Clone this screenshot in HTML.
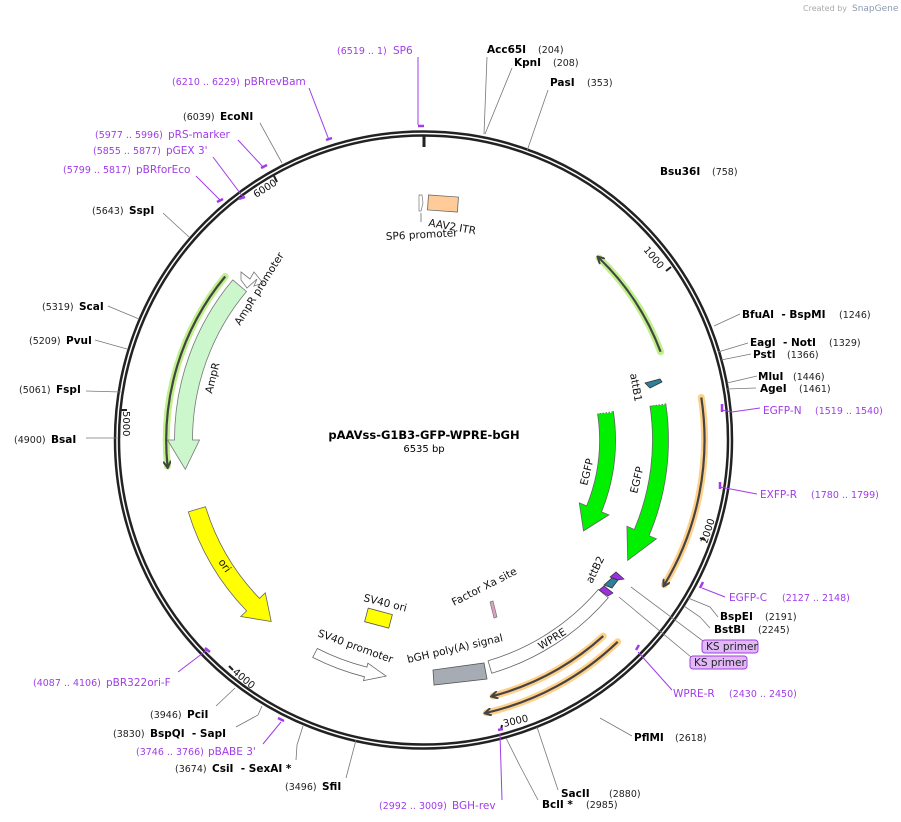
<!DOCTYPE html>
<html><head><meta charset="utf-8"><style>
html,body{margin:0;padding:0;background:#fff;}
svg{display:block;}
text{font-family:"DejaVu Sans","Liberation Sans",sans-serif;}
.b{font-weight:bold;font-size:10.5px;fill:#000;}
.n{font-size:9.5px;fill:#222;}
.p{font-size:10.5px;fill:#a03ce8;}
.pn{font-size:9.5px;fill:#a03ce8;}
.f{font-size:10.5px;fill:#111;}
.t{font-size:10px;fill:#111;}
.ln{stroke:#777;stroke-width:0.8;fill:none;}
.pl{stroke:#a03ce8;stroke-width:1;fill:none;}
.pt{stroke:#a03ce8;stroke-width:2.5;fill:none;}
</style></head><body>
<svg width="901" height="822" viewBox="0 0 901 822" xmlns="http://www.w3.org/2000/svg">
<defs>
<marker id="ah" markerWidth="8" markerHeight="8" refX="5" refY="4" orient="auto" markerUnits="userSpaceOnUse">
<path d="M0,0 L7,4 L0,8" fill="none" stroke="#444" stroke-width="2"/>
</marker>
</defs>
<rect width="901" height="822" fill="#fff"/>
<text x="803" y="11" style="font-size:8px;fill:#aaa">Created by</text>
<text x="852" y="11" style="font-size:9px;fill:#8a9ab0">SnapGene</text>

<circle cx="423.5" cy="440" r="306.5" fill="none" stroke="#222" stroke-width="6.5"/>
<circle cx="423.5" cy="440" r="306.5" fill="none" stroke="#fff" stroke-width="1.5"/>
<line x1="424" y1="136" x2="424" y2="147" stroke="#222" stroke-width="3"/>

<line x1="666" y1="271" x2="671" y2="267" stroke="#222" stroke-width="2"/>
<text class="t" transform="translate(643,250) rotate(50)">1000</text>
<line x1="700" y1="538" x2="705" y2="540" stroke="#222" stroke-width="2"/>
<text class="t" transform="translate(707,544) rotate(-72)">2000</text>
<line x1="501" y1="730" x2="502" y2="725" stroke="#222" stroke-width="2"/>
<text class="t" transform="translate(504,727) rotate(-13)">3000</text>
<line x1="229" y1="666" x2="233" y2="670" stroke="#222" stroke-width="2"/>
<text class="t" transform="translate(232,673) rotate(40)">4000</text>
<line x1="121" y1="410" x2="127" y2="410" stroke="#222" stroke-width="2"/>
<text class="t" transform="translate(123,411) rotate(90)">5000</text>
<line x1="274" y1="176" x2="277" y2="182" stroke="#222" stroke-width="2"/>
<text class="t" transform="translate(256,198) rotate(-32)">6000</text>

<path d="M660.6,351.8 A253 253 0 0 0 599,258" fill="none" stroke="#bff08a" stroke-width="7" stroke-linecap="round"/>
<path d="M660.6,351.8 A253 253 0 0 0 599,258" fill="none" stroke="#444" stroke-width="2.2" marker-end="url(#ah)"/>
<path d="M225.2,276.5 A257 257 0 0 0 167.5,466" fill="none" stroke="#bff08a" stroke-width="7" stroke-linecap="round"/>
<path d="M225.2,276.5 A257 257 0 0 0 167.5,466" fill="none" stroke="#444" stroke-width="2.2" marker-end="url(#ah)"/>
<path d="M701.3,397.5 A281 281 0 0 1 664.4,584.7" fill="none" stroke="#ffd08a" stroke-width="7" stroke-linecap="round"/>
<path d="M701.3,397.5 A281 281 0 0 1 664.4,584.7" fill="none" stroke="#444" stroke-width="2.2" marker-end="url(#ah)"/>
<path d="M603.2,636.1 A266 266 0 0 1 493,696" fill="none" stroke="#ffd08a" stroke-width="7" stroke-linecap="round"/>
<path d="M603.2,636.1 A266 266 0 0 1 493,696" fill="none" stroke="#444" stroke-width="2.2" marker-end="url(#ah)"/>
<path d="M617.7,641.8 A280 280 0 0 1 486.5,712.8" fill="none" stroke="#ffd08a" stroke-width="7" stroke-linecap="round"/>
<path d="M617.7,641.8 A280 280 0 0 1 486.5,712.8" fill="none" stroke="#444" stroke-width="2.2" marker-end="url(#ah)"/>

<path d="M232.8,279.9 A249 249 0 0 0 174.5,440 L167.5,440 L185.3,469.3 L199.5,440 L192.5,440 A231 231 0 0 1 246.5,291.5 Z" fill="#ccf7cc" stroke="#777" stroke-width="0.8"/>
<polygon points="241,272 250,279 254,272 263,283 254,286 257,279 247,288 241,280" fill="#fff" stroke="#777" stroke-width="0.8"/>
<path d="M188.3,511.9 A246 246 0 0 0 246.6,610.9 L240.8,616.5 L271.2,621.5 L265.3,592.8 L259.5,598.4 A228 228 0 0 1 205.5,506.7 Z" fill="#ffff00" stroke="#666" stroke-width="0.8"/>
<path d="M312.7,657.4 A244 244 0 0 0 364.5,676.8 L363.5,680.6 L386.1,676.1 L367.9,663.2 L366.9,667.1 A234 234 0 0 1 317.3,648.5 Z" fill="#fff" stroke="#666" stroke-width="0.8"/>
<polygon points="433,670 484,663 487,679 434,685" fill="#a7acb4" stroke="#555" stroke-width="0.8"/>
<path d="M608.3,597.8 A243 243 0 0 1 491.7,673.2 L488.1,660.8 A230 230 0 0 0 598.4,589.4 Z" fill="#fff" stroke="#666" stroke-width="0.8"/>
<path d="M665.8,403.8 A245 245 0 0 1 649,535.7 L656.4,538.8 L627.7,560.3 L626.9,526.3 L634.3,529.5 A229 229 0 0 0 650,406.2 Z" fill="#00f000" stroke="#666" stroke-width="0.8"/>
<path d="M613.4,411.6 A192 192 0 0 1 601.5,511.9 L608.9,514.9 L583.5,530.9 L579.3,502.9 L586.7,505.9 A176 176 0 0 0 597.6,414 Z" fill="#00f000" stroke="#666" stroke-width="0.8"/>
<line x1="651" y1="405" x2="665" y2="404" stroke="#fff" stroke-width="1.5" stroke-dasharray="1.5,1.5"/>
<line x1="598" y1="413" x2="612" y2="412" stroke="#fff" stroke-width="1.5" stroke-dasharray="1.5,1.5"/>
<rect x="428" y="196" width="30" height="15" fill="#ffcc99" stroke="#666" stroke-width="0.8" transform="rotate(4 443 203)"/>
<polygon points="419,195 422,195 423,203 421,211 419,211" fill="#fff" stroke="#777" stroke-width="0.7"/>
<line x1="421" y1="213" x2="421" y2="222" stroke="#555" stroke-width="0.7"/>
<rect x="366" y="611" width="25" height="14" fill="#ffff00" stroke="#555" stroke-width="0.8" transform="rotate(15 378 618)"/>
<polygon points="490,602 493,601 497,617 494,618" fill="#e0a0c0" stroke="#777" stroke-width="0.7"/>
<polygon points="645,383 660,379 662,382 650,388" fill="#2e7f98" stroke="#333" stroke-width="0.8"/>
<polygon points="604,585 612,578 618,580 612,588" fill="#2e7f98" stroke="#333" stroke-width="0.8"/>
<polygon points="610,577 616,572 624,579 618,580" fill="#9b30e0" stroke="#333" stroke-width="0.7"/>
<polygon points="599,590 604,586 613,593 608,596" fill="#9b30e0" stroke="#333" stroke-width="0.7"/>

<text class="f" transform="translate(428,226) rotate(10)">AAV2 ITR</text>
<text class="f" transform="translate(386,240) rotate(-3)">SP6 promoter</text>
<text class="f" transform="translate(240,326) rotate(-58)">AmpR promoter</text>
<text class="f" transform="translate(212,394) rotate(-76)">AmpR</text>
<text class="f" transform="translate(218,562) rotate(55)">ori</text>
<text class="f" transform="translate(363,601) rotate(14)">SV40 ori</text>
<text class="f" transform="translate(317,636) rotate(20)">SV40 promoter</text>
<text class="f" transform="translate(408,663) rotate(-13)">bGH poly(A) signal</text>
<text class="f" transform="translate(541,650) rotate(-32)">WPRE</text>
<text class="f" transform="translate(454,606) rotate(-27)">Factor Xa site</text>
<text class="f" transform="translate(592,584) rotate(-64)">attB2</text>
<text class="f" transform="translate(630,374) rotate(80)">attB1</text>
<text class="f" transform="translate(587,486) rotate(-76)">EGFP</text>
<text class="f" transform="translate(637,494) rotate(-76)">EGFP</text>

<text x="424" y="439" text-anchor="middle" style="font-weight:bold;font-size:11.5px;fill:#000">pAAVss-G1B3-GFP-WPRE-bGH</text>
<text x="424" y="452" text-anchor="middle" style="font-size:10px;fill:#000">6535 bp</text>

<g class="ln">
<path d="M484,134 L487,57"/><path d="M485,134 L512,68"/><path d="M527,151 L548,90"/>
<path d="M714,326 L740,314"/><path d="M718,352 L748,343"/><path d="M721,360 L751,354"/>
<path d="M727,383 L757,376"/><path d="M727,389 L756,388"/>
<path d="M688,598 L710,607 L718,617"/><path d="M684,606 L700,617 L710,628"/>
<path d="M631,587 L703,641"/><path d="M619,597 L691,657"/>
<path d="M600,718 L632,736"/><path d="M537,727 L558,790"/><path d="M506,738 L520,766 L538,800"/>
<path d="M356,740 L346,778"/><path d="M303,726 L297,745 L296,760"/><path d="M262,706 L258,715 L236,727"/>
<path d="M235,688 L216,706"/>
<path d="M117,438 L86,438"/><path d="M121,392 L86,391"/><path d="M127,349 L95,340"/><path d="M139,319 L108,306"/>
<path d="M189,237 L163,213"/><path d="M282,163 L260,123"/>
</g>
<g class="pl">
<path d="M418,57 L418,125"/><path d="M329,140 L309,88"/><path d="M264,168 L238,140"/><path d="M243,197 L213,157"/><path d="M220,200 L196,176"/>
<path d="M722,410 L732,412 L760,408"/><path d="M720,487 L757,494"/><path d="M702,588 L725,597"/>
<path d="M638,652 L672,690"/><path d="M500,734 L502,800"/><path d="M281,722 L263,744"/><path d="M207,650 L178,672"/>
</g>
<g class="pt">
<path d="M418,126 L424,126"/><path d="M326,140 L332,138"/><path d="M261,168 L267,165"/><path d="M239,199 L245,197"/><path d="M217,202 L223,199"/>
<path d="M722,404 L722,412"/><path d="M720,482 L720,489"/><path d="M700,588 L703,582"/><path d="M636,650 L639,645"/>
<path d="M498,730 L503,729"/><path d="M278,718 L284,721"/><path d="M205,648 L210,652"/>
</g>

<text class="b" x="487" y="53">Acc65I</text><text class="n" x="538" y="53">(204)</text>
<text class="b" x="514" y="66">KpnI</text><text class="n" x="553" y="66">(208)</text>
<text class="b" x="550" y="86">PasI</text><text class="n" x="587" y="86">(353)</text>
<text class="b" x="660" y="175">Bsu36I</text><text class="n" x="712" y="175">(758)</text>
<text class="b" x="742" y="318">BfuAI&#160;&#160;- BspMI</text><text class="n" x="839" y="318">(1246)</text>
<text class="b" x="750" y="346">EagI&#160;&#160;- NotI</text><text class="n" x="829" y="346">(1329)</text>
<text class="b" x="753" y="358">PstI</text><text class="n" x="787" y="358">(1366)</text>
<text class="b" x="758" y="380">MluI</text><text class="n" x="793" y="380">(1446)</text>
<text class="b" x="760" y="392">AgeI</text><text class="n" x="799" y="392">(1461)</text>
<text class="b" x="720" y="620">BspEI</text><text class="n" x="765" y="620">(2191)</text>
<text class="b" x="714" y="633">BstBI</text><text class="n" x="758" y="633">(2245)</text>
<text class="b" x="634" y="741">PflMI</text><text class="n" x="675" y="741">(2618)</text>
<text class="b" x="561" y="797">SacII</text><text class="n" x="609" y="797">(2880)</text>
<text class="b" x="542" y="808">BclI *</text><text class="n" x="586" y="808">(2985)</text>
<text class="b" x="322" y="790">SfiI</text><text class="n" x="285" y="790">(3496)</text>
<text class="b" x="212" y="772">CsiI&#160;&#160;- SexAI *</text><text class="n" x="175" y="772">(3674)</text>
<text class="b" x="150" y="737">BspQI&#160;&#160;- SapI</text><text class="n" x="113" y="737">(3830)</text>
<text class="b" x="187" y="718">PciI</text><text class="n" x="150" y="718">(3946)</text>
<text class="b" x="51" y="443">BsaI</text><text class="n" x="14" y="443">(4900)</text>
<text class="b" x="56" y="393">FspI</text><text class="n" x="19" y="393">(5061)</text>
<text class="b" x="66" y="344">PvuI</text><text class="n" x="29" y="344">(5209)</text>
<text class="b" x="79" y="310">ScaI</text><text class="n" x="42" y="310">(5319)</text>
<text class="b" x="129" y="214">SspI</text><text class="n" x="92" y="214">(5643)</text>
<text class="b" x="220" y="120">EcoNI</text><text class="n" x="183" y="120">(6039)</text>

<text class="p" x="393" y="54">SP6</text><text class="pn" x="337" y="54">(6519 .. 1)</text>
<text class="p" x="244" y="85">pBRrevBam</text><text class="pn" x="172" y="85">(6210 .. 6229)</text>
<text class="p" x="168" y="138">pRS-marker</text><text class="pn" x="95" y="138">(5977 .. 5996)</text>
<text class="p" x="166" y="154">pGEX 3'</text><text class="pn" x="93" y="154">(5855 .. 5877)</text>
<text class="p" x="136" y="173">pBRforEco</text><text class="pn" x="63" y="173">(5799 .. 5817)</text>
<text class="p" x="763" y="414">EGFP-N</text><text class="pn" x="815" y="414">(1519 .. 1540)</text>
<text class="p" x="760" y="498">EXFP-R</text><text class="pn" x="811" y="498">(1780 .. 1799)</text>
<text class="p" x="729" y="601">EGFP-C</text><text class="pn" x="782" y="601">(2127 .. 2148)</text>
<text class="p" x="673" y="697">WPRE-R</text><text class="pn" x="729" y="697">(2430 .. 2450)</text>
<text class="p" x="452" y="809">BGH-rev</text><text class="pn" x="379" y="809">(2992 .. 3009)</text>
<text class="p" x="208" y="755">pBABE 3'</text><text class="pn" x="136" y="755">(3746 .. 3766)</text>
<text class="p" x="106" y="686">pBR322ori-F</text><text class="pn" x="33" y="686">(4087 .. 4106)</text>

<rect x="702" y="640" width="56" height="13" rx="3" fill="#e2b8f8" stroke="#a040e0" stroke-width="1"/>
<text x="706" y="650" style="font-size:10.5px;fill:#222">KS primer</text>
<rect x="690" y="656" width="57" height="13" rx="3" fill="#e2b8f8" stroke="#a040e0" stroke-width="1"/>
<text x="694" y="666" style="font-size:10.5px;fill:#222">KS primer</text>
</svg>
</body></html>
